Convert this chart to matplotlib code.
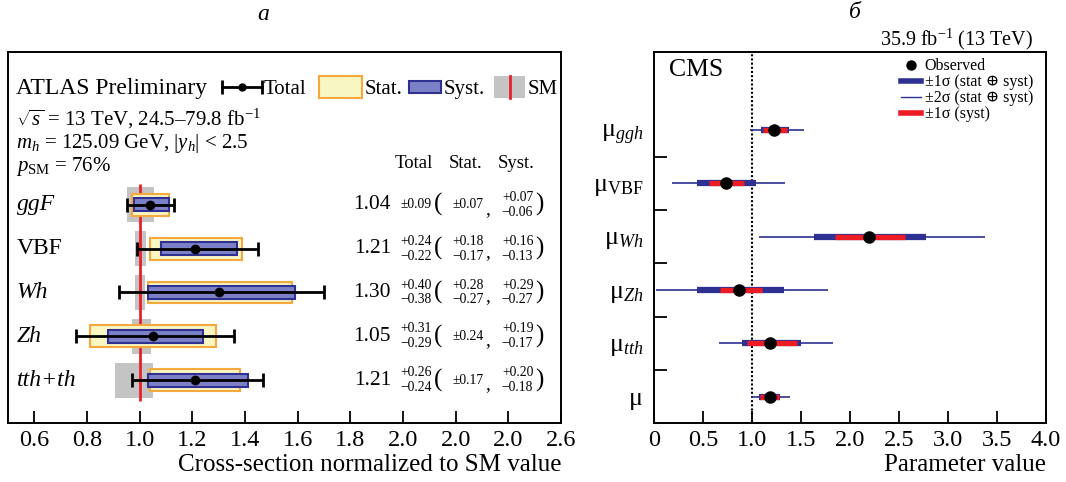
import matplotlib
matplotlib.use('Agg')
import matplotlib.pyplot as plt
import numpy as np
from matplotlib.patches import Rectangle
from matplotlib.lines import Line2D
import matplotlib.transforms as mtrans

plt.rcParams['font.family'] = ['Liberation Serif', 'DejaVu Serif']
plt.rcParams['mathtext.fontset'] = 'custom'
plt.rcParams['mathtext.rm'] = 'Liberation Serif'
plt.rcParams['mathtext.it'] = 'Liberation Serif:italic'
plt.rcParams['mathtext.bf'] = 'Liberation Serif:bold'
plt.rcParams['axes.linewidth'] = 1.4

# ---------------- panel a (ATLAS) data ----------------
processes = ['ggF', 'VBF', 'Wh', 'Zh', 'tth+th']
proc_italic = [True, False, True, True, True]
xsec = [1.04, 1.21, 1.30, 1.05, 1.21]
tot_up = [0.09, 0.24, 0.40, 0.31, 0.26]
tot_dn = [0.09, 0.22, 0.38, 0.29, 0.24]
stat_up = [0.07, 0.18, 0.28, 0.24, 0.17]
stat_dn = [0.07, 0.17, 0.27, 0.24, 0.17]
syst_up = [0.07, 0.16, 0.29, 0.19, 0.20]
syst_dn = [0.06, 0.13, 0.27, 0.17, 0.18]
sm_up = [0.054, 0.025, 0.02, 0.044, 0.051]
sm_dn = [0.047, 0.018, 0.018, 0.03, 0.093]
a_ticks = [0.6, 0.8, 1.0, 1.2, 1.4, 1.6, 1.8, 2.0, 2.2, 2.4, 2.6]
a_tick_labels = ['0.6', '0.8', '1.0', '1.2', '1.4', '1.6', '1.8', '2.0', '2.0', '2.0', '2.6']

# ---------------- panel b (CMS) data ----------------
params = ['μ$_{ggh}$', 'μ$_{\\mathrm{VBF}}$', 'μ$_{Wh}$', 'μ$_{Zh}$', 'μ$_{tth}$', 'μ']
best = [1.22, 0.73, 2.19, 0.87, 1.18, 1.18]
s1_lo = [1.09, 0.44, 1.63, 0.44, 0.90, 1.07]
s1_hi = [1.38, 1.04, 2.78, 1.33, 1.50, 1.29]
s2_lo = [0.98, 0.18, 1.07, 0.02, 0.66, 0.99]
s2_hi = [1.53, 1.34, 3.38, 1.78, 1.83, 1.39]
sy_lo = [1.11, 0.56, 1.85, 0.67, 0.95, 1.08]
sy_hi = [1.36, 0.92, 2.56, 1.10, 1.46, 1.28]
b_ticks = [0, 0.5, 1.0, 1.5, 2.0, 2.5, 3.0, 3.5, 4.0]
b_tick_labels = ['0', '0.5', '1.0', '1.5', '2.0', '2.5', '3.0', '3.5', '4.0']

STAT_FC, STAT_EC = '#f8f6c3', '#f5a93c'
SYST_FC, SYST_EC = '#7c81c7', '#2e3192'
SM_GRAY, SM_RED = '#c4c4c4', '#e8202a'

W, H = 1066, 482
fig = plt.figure(figsize=(W / 100, H / 100), dpi=100)
axa = fig.add_axes([8 / W, (H - 423) / H, 553 / W, 371 / H])
axb = fig.add_axes([654 / W, (H - 423) / H, 392 / W, 371 / H])

# ================= panel a =================
n = len(processes)
ya = np.arange(n)[::-1].astype(float)
c = np.array(xsec)
axa.barh(ya, np.add(sm_up, sm_dn), left=1 - np.array(sm_dn), height=0.8,
         color=SM_GRAY, lw=0, zorder=1)
axa.vlines(1.0, ya.min() - 0.48, ya.max() + 0.48, color=SM_RED, lw=2, zorder=2)
axa.barh(ya, np.add(stat_up, stat_dn), left=c - np.array(stat_dn), height=0.5,
         facecolor=STAT_FC, edgecolor=STAT_EC, lw=1.5, zorder=3)
axa.barh(ya, np.add(syst_up, syst_dn), left=c - np.array(syst_dn), height=0.3,
         facecolor=SYST_FC, edgecolor=SYST_EC, lw=1.5, zorder=4)
axa.errorbar(c, ya, xerr=[tot_dn, tot_up], fmt='o', color='k', ms=6,
             elinewidth=2, capsize=5, capthick=2, zorder=5)

axa.set_xlim(0.5, 2.6)
axa.set_ylim(-0.98, 7.49)
axa.set_yticks([])
axa.set_xticks(a_ticks)
axa.set_xticklabels(a_tick_labels)
axa.tick_params(axis='x', direction='in', length=9, width=1.3, labelsize=17.5, pad=5)
axa.set_xlabel('Cross-section normalized to SM value', fontsize=18, loc='right', labelpad=2)

SMALL = 9.8
tr = mtrans.blended_transform_factory(axa.transAxes, axa.transData)
for i in range(n):
    y = ya[i]
    axa.text(0.016, y, processes[i], transform=tr, fontsize=17, va='center', ha='left',
             style='italic' if proc_italic[i] else 'normal')
    axa.text(0.6926, y, f'{xsec[i]:.2f}', transform=tr, fontsize=15.5, va='center', ha='right')

    def err(xp, up, dn):
        if abs(up - dn) < 1e-9:
            axa.text(xp, y, f'±{up:.2f}', transform=tr, fontsize=SMALL, va='center', ha='left')
        else:
            axa.text(xp, y + 0.17, f'+{up:.2f}', transform=tr, fontsize=SMALL, va='center', ha='left')
            axa.text(xp, y - 0.17, f'−{dn:.2f}', transform=tr, fontsize=SMALL, va='center', ha='left')
    err(0.709, tot_up[i], tot_dn[i])
    axa.text(0.777, y, '(', transform=tr, fontsize=18, va='center', ha='center')
    err(0.803, stat_up[i], stat_dn[i])
    axa.text(0.868, y - 0.1, ',', transform=tr, fontsize=14, va='center', ha='center')
    err(0.893, syst_up[i], syst_dn[i])
    axa.text(0.961, y, ')', transform=tr, fontsize=18, va='center', ha='center')

for lab, xp in zip(['Total', 'Stat.', 'Syst.'], [0.734, 0.828, 0.919]):
    axa.text(xp, 0.687, lab, transform=axa.transAxes, fontsize=13.5, ha='center', va='baseline')

TA = axa.transAxes
axa.text(0.0145, 0.887, 'ATLAS Preliminary', transform=TA, fontsize=17, va='baseline')
axa.text(0.0145, 0.803, r'$\sqrt{s}$ = 13 TeV, 24.5–79.8 fb$^{-1}$', transform=TA,
         fontsize=15, va='baseline')
axa.text(0.0145, 0.740, r'$m_h$ = 125.09 GeV, $|y_h|$ < 2.5', transform=TA,
         fontsize=15, va='baseline')
axa.text(0.0145, 0.680, r'$p_{\mathrm{SM}}$ = 76%', transform=TA,
         fontsize=15, va='baseline')

# legend row of panel a (keys drawn in axes-fraction units)
yk = 0.9057
hb_big, hb_small = 0.0296, 0.0162
axa.add_line(Line2D([0.387, 0.4593], [yk, yk], color='k', lw=2, transform=TA))
axa.add_line(Line2D([0.387, 0.4593], [yk, yk], color='k', lw=0, marker='|', ms=10, mew=2,
                    transform=TA))
axa.add_line(Line2D([0.4231], [yk], color='k', marker='o', ms=5, transform=TA))
axa.text(0.463, 0.887, 'Total', transform=TA, fontsize=15, va='baseline')
axa.add_patch(Rectangle((0.5624, yk - hb_big), 0.0777, 2 * hb_big, facecolor=STAT_FC,
                        edgecolor=STAT_EC, lw=1.5, transform=TA))
axa.text(0.6456, 0.887, 'Stat.', transform=TA, fontsize=15, va='baseline')
axa.add_patch(Rectangle((0.7251, yk - hb_small), 0.0579, 2 * hb_small, facecolor=SYST_FC,
                        edgecolor=SYST_EC, lw=1.5, transform=TA))
axa.text(0.7884, 0.887, 'Syst.', transform=TA, fontsize=15, va='baseline')
axa.add_patch(Rectangle((0.8788, yk - hb_big), 0.0561, 2 * hb_big, facecolor=SM_GRAY,
                        edgecolor='none', transform=TA))
axa.add_line(Line2D([0.9069, 0.9069], [yk - hb_big, yk + hb_big], color=SM_RED, lw=2,
                    transform=TA))
axa.text(0.9403, 0.887, 'SM', transform=TA, fontsize=15, va='baseline')

# ================= panel b =================
m = len(params)
yb = np.arange(m)[::-1].astype(float)
blue = '#2e3192'
red = '#ed1c24'
axb.axvline(1.0, color='k', ls=(0, (1.0, 1.0)), lw=1.5, zorder=1)
axb.hlines(yb, s2_lo, s2_hi, color=blue, lw=1.2, zorder=2)
axb.hlines(yb, s1_lo, s1_hi, color=blue, lw=4.5, zorder=3)
axb.hlines(yb, sy_lo, sy_hi, color=red, lw=3.8, zorder=4)
axb.plot(best, yb, 'o', color='k', ms=8, ls='none', zorder=5)

axb.set_xlim(0, 4.0)
axb.set_ylim(-0.49, 6.46)
axb.set_xticks(b_ticks)
axb.set_xticklabels(b_tick_labels)
axb.set_yticks(np.arange(m - 1) + 0.5)
axb.set_yticklabels([])
axb.set_yticks(yb, minor=True)
axb.set_yticklabels(params, minor=True)
axb.tick_params(axis='x', direction='in', length=9, width=1.3, labelsize=17.5, pad=5)
axb.tick_params(axis='y', which='major', direction='in', length=9, width=1.3)
axb.tick_params(axis='y', which='minor', length=0, labelsize=18.5, pad=8)
axb.set_xlabel('Parameter value', fontsize=18, loc='right', labelpad=2)

axb.text(0.038, 0.935, 'CMS', transform=axb.transAxes, fontsize=18.5, va='baseline')
axb.text(0.967, 1.019, '35.9 fb$^{-1}$ (13 TeV)', transform=axb.transAxes, fontsize=14.5,
         ha='right', va='baseline')

hb = [Line2D([], [], color='k', marker='o', ms=6.5, ls='none'),
      Line2D([], [], color=blue, lw=4.0),
      Line2D([], [], color=blue, lw=1.0),
      Line2D([], [], color=red, lw=4.0)]
axb.legend(hb, ['Observed', '±1σ (stat ⊕ syst)', '±2σ (stat ⊕ syst)', '±1σ (syst)'],
           loc='upper right', bbox_to_anchor=(0.967, 0.983), frameon=False, fontsize=11.5,
           borderpad=0, borderaxespad=0, labelspacing=0.0, handlelength=1.3,
           handletextpad=0.2)

fig.text(263 / W, 1 - 14 / H, 'а', fontsize=17, style='italic', ha='center', va='center')
fig.text(855 / W, 1 - 12 / H, 'б', fontsize=17, style='italic', ha='center', va='center')

fig.savefig('out.png', dpi=100)
